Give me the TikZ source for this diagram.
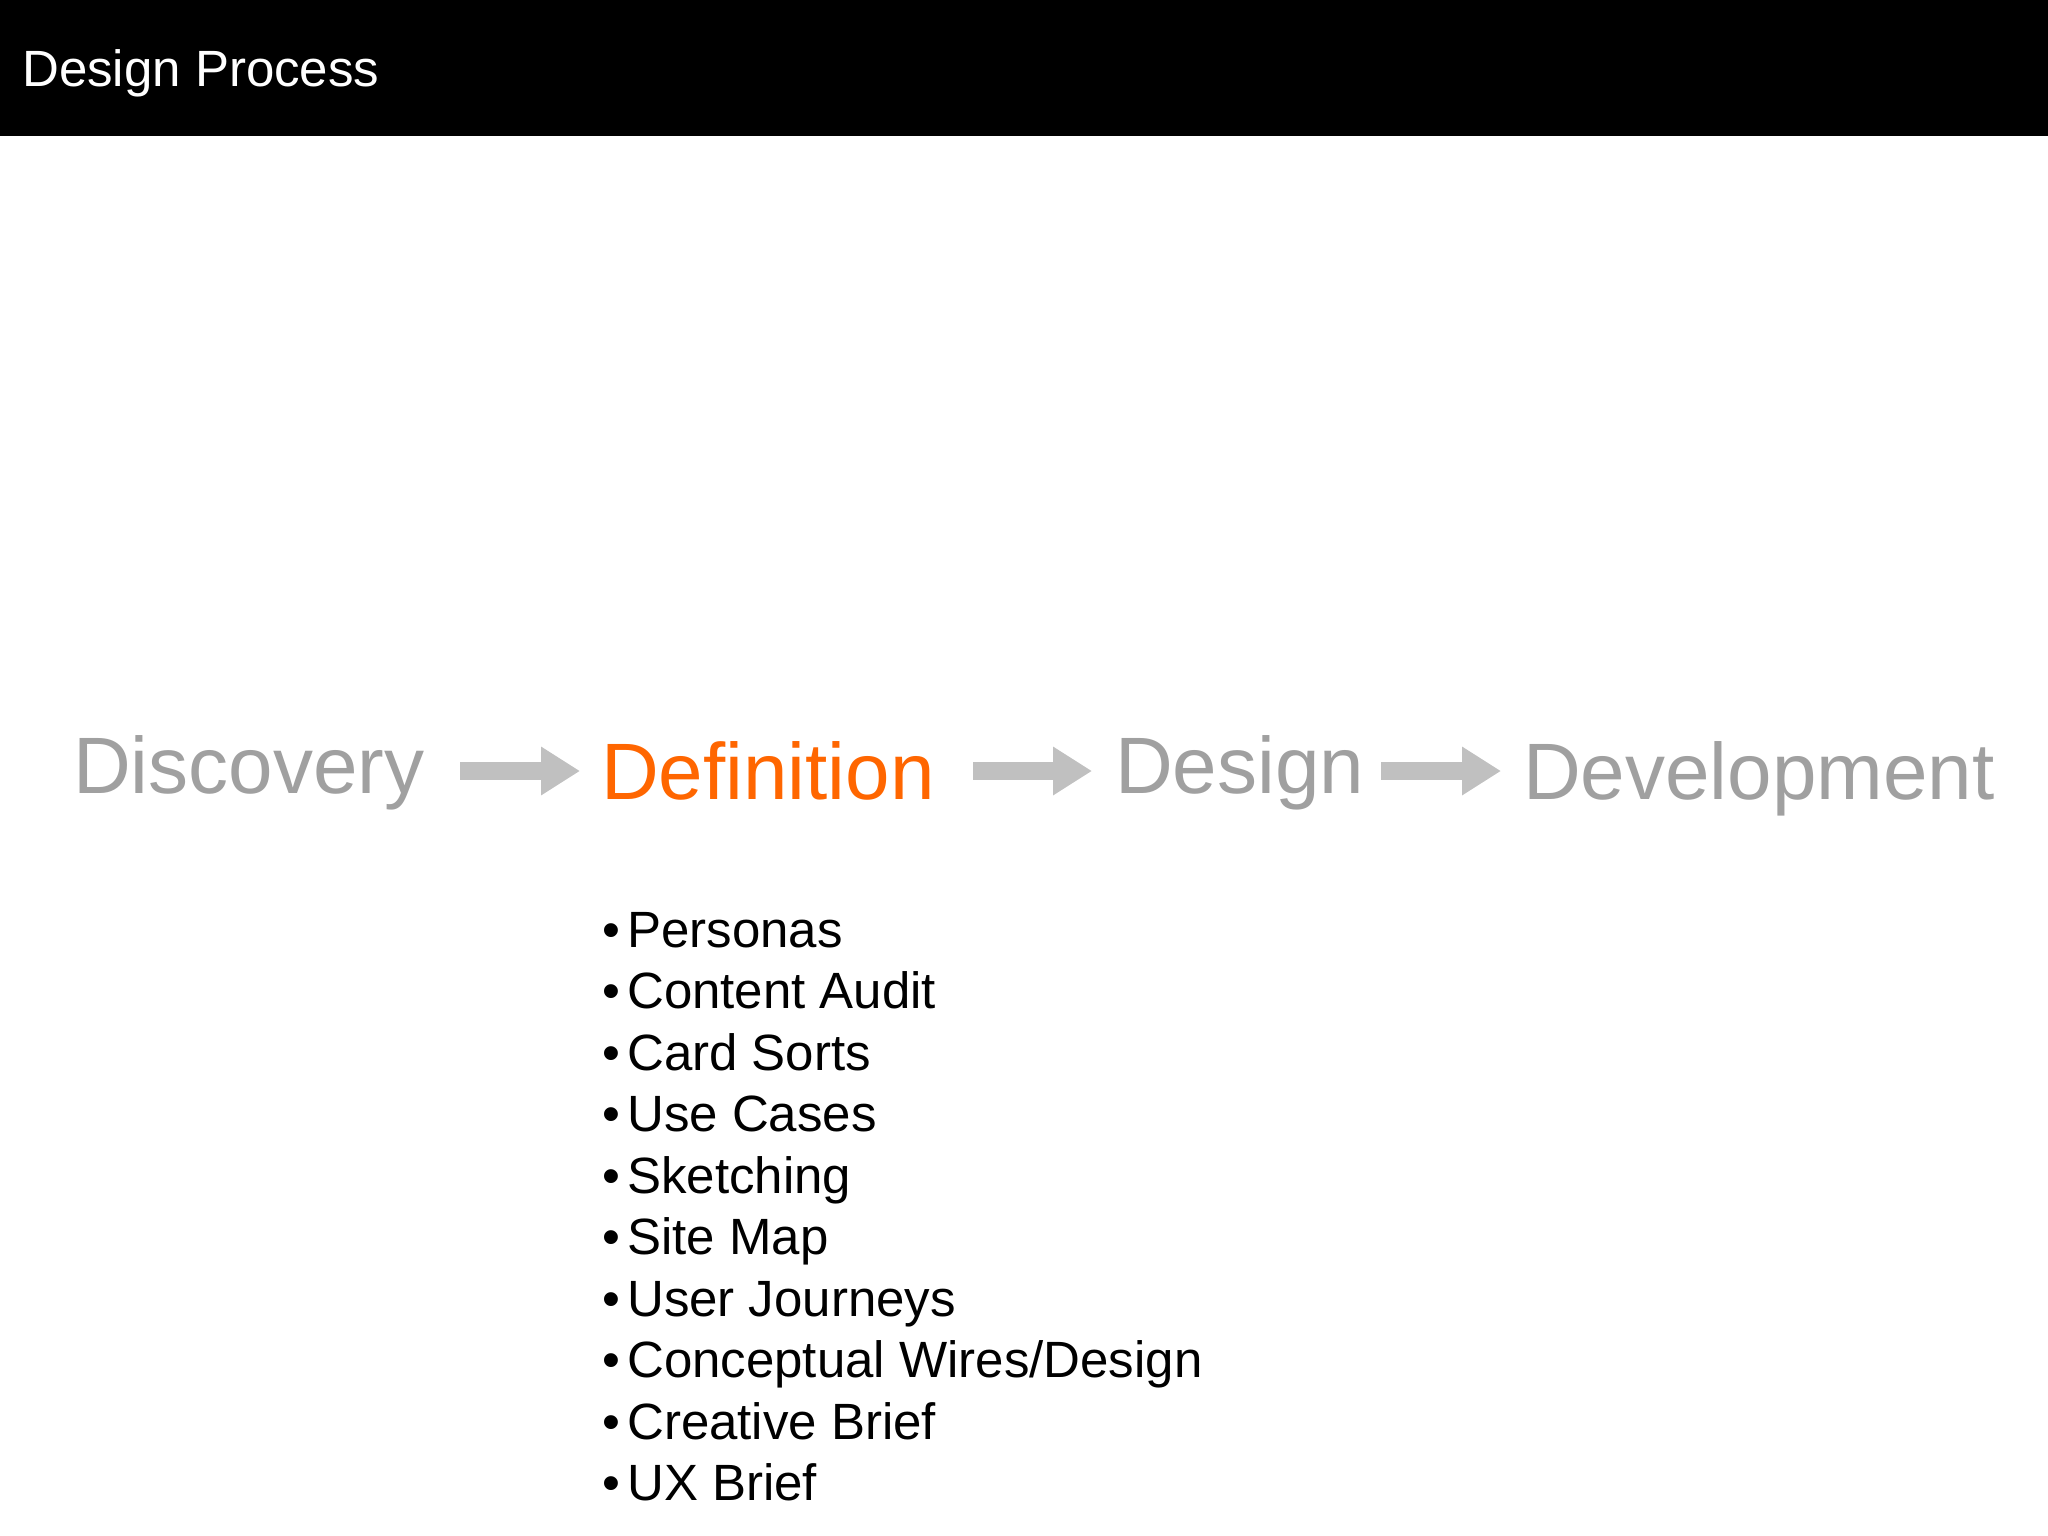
\documentclass[tikz,border=0pt]{standalone}
\usepackage{fontspec}
\setmainfont{Liberation Sans}
\usetikzlibrary{arrows.meta}
\definecolor{deforange}{RGB}{255,102,0}
\definecolor{stagegray}{RGB}{160,160,160}
\definecolor{arrowgray}{RGB}{192,192,192}
\begin{document}
\begin{tikzpicture}[x=1pt,y=-1pt,
  stage/.style={anchor=base west, inner sep=0pt, font=\fontsize{80}{96}\selectfont, text=stagegray},
  listitem/.style={anchor=base west, inner sep=0pt, font=\fontsize{51}{60}\selectfont, text=black},
  flow/.style={line width=18pt, draw=arrowgray, -{Triangle[length=39pt,width=46pt]}}]
\useasboundingbox (0,0) rectangle (2048,1536);
\fill[white] (0,0) rectangle (2048,1536);
\fill[black] (0,0) rectangle (2048,136);
\node[anchor=base west, inner sep=0pt, text=white, font=\fontsize{51}{60}\selectfont] (title) at (22,87) {Design Process};
% stages
\node[stage] (discovery) at (73,793) {Discovery};
\node[stage, text=deforange] (definition) at (601,799) {Definition};
\node[stage] (design) at (1115,793) {Design};
\node[stage] (development) at (1523,799) {Development};
% arrows
\coordinate (a1s) at (460,771); \coordinate (a1e) at (580,771);
\coordinate (a2s) at (973,771); \coordinate (a2e) at (1092,771);
\coordinate (a3s) at (1381,771); \coordinate (a3e) at (1501,771);
\draw[flow] (a1s) -- (a1e);
\draw[flow] (a2s) -- (a2e);
\draw[flow] (a3s) -- (a3e);
% list
\foreach \t [count=\i] in {Personas, Content Audit, Card Sorts, Use Cases, Sketching, Site Map, User Journeys, Conceptual Wires/Design, Creative Brief, UX Brief}{
  \node[listitem] (bul\i) at (602,{947+61.5*(\i-1)}) {\textbullet};
  \node[listitem] (item\i) at (627,{947+61.5*(\i-1)}) {\t};
}
\end{tikzpicture}
\end{document}
